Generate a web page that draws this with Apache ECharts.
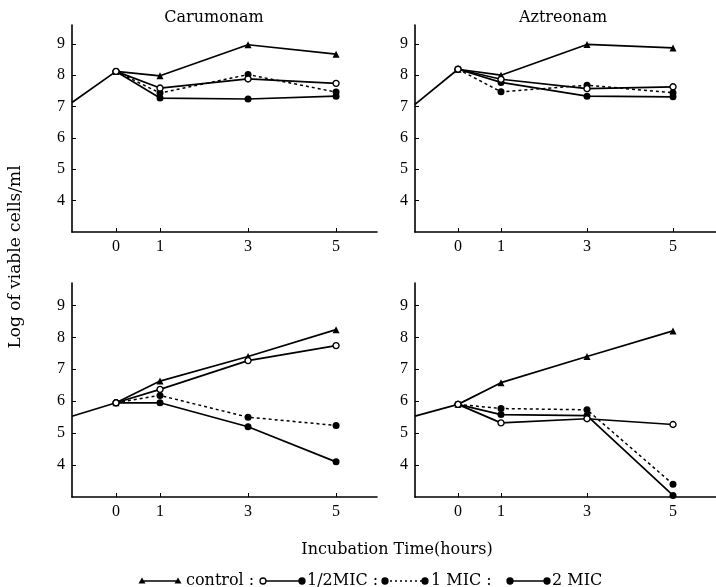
<!DOCTYPE html>
<html><head><meta charset="utf-8">
<script src="https://cdn.jsdelivr.net/npm/echarts@6/dist/echarts.min.js"></script>
<style>html,body{margin:0;padding:0;background:#fff}#c{width:716px;height:587px}</style>
</head><body><div id="c"></div>
<script>
// ---- data ----
const hours = [0, 1, 3, 5];
const preHours = [-1, 0];
const xTicks = [0, 1, 3, 5];
const yTicks = [4, 5, 6, 7, 8, 9];
const panelTitles = ['Carumonam', 'Aztreonam'];
const seriesNames = ['control', '1/2MIC', '1 MIC', '2 MIC'];

// top-left (Carumonam)
const tlPre = [7.13, 8.12];
const tlControl = [8.12, 7.98, 8.97, 8.67];
const tlHalf = [8.12, 7.59, 7.88, 7.74];
const tlOne = [8.12, 7.43, 8.02, 7.46];
const tlTwo = [8.12, 7.27, 7.24, 7.33];
// top-right (Aztreonam)
const trPre = [7.07, 8.19];
const trControl = [8.19, 8.0, 8.98, 8.87];
const trHalf = [8.19, 7.87, 7.57, 7.63];
const trOne = [8.19, 7.47, 7.68, 7.44];
const trTwo = [8.19, 7.77, 7.33, 7.31];
// bottom-left (Carumonam)
const blPre = [5.53, 5.95];
const blControl = [5.95, 6.63, 7.4, 8.24];
const blHalf = [5.95, 6.37, 7.27, 7.74];
const blOne = [5.95, 6.18, 5.5, 5.24];
const blTwo = [5.95, 5.95, 5.2, 4.1];
// bottom-right (Aztreonam)
const brPre = [5.53, 5.9];
const brControl = [5.9, 6.58, 7.4, 8.2];
const brHalf = [5.9, 5.32, 5.45, 5.27];
const brOne = [5.9, 5.77, 5.73, 3.4];
const brTwo = [5.9, 5.58, 5.55, 3.05];

// ---- chart ----
const FONT = '"Liberation Serif","DejaVu Serif",serif';
const WFONT = '"DejaVu Serif","Liberation Serif",serif';
const panels = [
  {pre: tlPre, c: tlControl, h: tlHalf, o: tlOne, t: tlTwo},
  {pre: trPre, c: trControl, h: trHalf, o: trOne, t: trTwo},
  {pre: blPre, c: blControl, h: blHalf, o: blOne, t: blTwo},
  {pre: brPre, c: brControl, h: brHalf, o: brOne, t: brTwo}
];
const grids = [
  {left: 72, top: 25, width: 305, height: 207},
  {left: 415, top: 25, width: 310, height: 207},
  {left: 72, top: 283, width: 305, height: 214},
  {left: 415, top: 283, width: 310, height: 214}
];
const xMax = [5.93, 6, 5.93, 6];
const yMax = [9.6, 9.6, 9.7, 9.7];

const axisLineStyle = {color: '#000', width: 1.6};
const xAxes = grids.map((g, i) => ({
  type: 'value', gridIndex: i, min: -1, max: xMax[i],
  axisLine: {show: true, onZero: false, lineStyle: axisLineStyle},
  axisTick: {show: true, inside: true, length: 4, customValues: xTicks, lineStyle: {color: '#000', width: 1}},
  axisLabel: {customValues: xTicks, color: '#000', fontFamily: FONT, fontSize: 16, margin: 7},
  splitLine: {show: false}
}));
const yAxes = grids.map((g, i) => ({
  type: 'value', gridIndex: i, min: 3, max: yMax[i],
  axisLine: {show: true, onZero: false, lineStyle: axisLineStyle},
  axisTick: {show: true, inside: true, length: 4, customValues: yTicks, lineStyle: {color: '#000', width: 1}},
  axisLabel: {customValues: yTicks, color: '#000', fontFamily: FONT, fontSize: 16, margin: 7},
  splitLine: {show: false}
}));

function pts(xs, ys) { return xs.map((x, k) => [x, ys[k]]); }
const series = [];
panels.forEach((p, i) => {
  const base = {type: 'line', xAxisIndex: i, yAxisIndex: i, animation: false, z: 3};
  series.push(Object.assign({}, base, {name: 'pre', data: pts(preHours, p.pre), showSymbol: false, symbol: 'none',
    lineStyle: {color: '#000', width: 1.7}}));
  series.push(Object.assign({}, base, {name: seriesNames[0], data: pts(hours, p.c), symbol: 'triangle', symbolSize: 7,
    itemStyle: {color: '#000'}, lineStyle: {color: '#000', width: 1.7}}));
  series.push(Object.assign({}, base, {name: seriesNames[2], data: pts(hours, p.o), symbol: 'circle', symbolSize: 7,
    itemStyle: {color: '#000'}, lineStyle: {color: '#000', width: 1.5, type: [3, 3]}}));
  series.push(Object.assign({}, base, {name: seriesNames[3], data: pts(hours, p.t), symbol: 'circle', symbolSize: 7,
    itemStyle: {color: '#000'}, lineStyle: {color: '#000', width: 1.7}}));
  series.push(Object.assign({}, base, {name: seriesNames[1], data: pts(hours, p.h), symbol: 'circle', symbolSize: 6,
    itemStyle: {color: '#fff', borderColor: '#000', borderWidth: 1.4}, lineStyle: {color: '#000', width: 1.7}, z: 4}));
});

// legend drawn as graphics (symbol at both ends of each sample line)
const LY = 581;
const legendG = [];
function seg(x1, x2, dashed) {
  legendG.push({type: 'line', shape: {x1: x1, y1: LY, x2: x2, y2: LY},
    style: {stroke: '#000', lineWidth: 1.6, lineDash: dashed ? [2, 3] : null}});
}
function tri(x) {
  legendG.push({type: 'polygon', shape: {points: [[x, LY - 3.5], [x - 3.5, LY + 2.5], [x + 3.5, LY + 2.5]]}, style: {fill: '#000'}});
}
function dot(x, open) {
  legendG.push({type: 'circle', shape: {cx: x, cy: LY, r: 3}, z: 10,
    style: {fill: open ? '#fff' : '#000', stroke: '#000', lineWidth: 1.3}});
}
function txt(x, s) {
  legendG.push({type: 'text', x: x, y: LY, style: {text: s, fill: '#000', font: '16px ' + WFONT, verticalAlign: 'middle'}});
}
seg(142, 178, false); tri(142); tri(178); txt(186, seriesNames[0] + ' :');
seg(263, 302, false); dot(263, true); dot(302, false); txt(307, seriesNames[1] + ' :');
seg(385, 425, true); dot(385, false); dot(425, false); txt(431, seriesNames[2] + ' :');
seg(510, 547, false); dot(510, false); dot(547, false); txt(552, seriesNames[3]);

const chart = echarts.init(document.getElementById('c'), null, {renderer: 'canvas'});
chart.setOption({
  backgroundColor: '#fff',
  animation: false,
  title: [
    {text: panelTitles[0], left: 209, top: 5, textAlign: 'center', textStyle: {fontFamily: WFONT, fontSize: 16, fontWeight: 'normal', color: '#000'}},
    {text: panelTitles[1], left: 558, top: 5, textAlign: 'center', textStyle: {fontFamily: WFONT, fontSize: 16, fontWeight: 'normal', color: '#000'}},
    {text: 'Incubation Time(hours)', left: 392, top: 537, textAlign: 'center', textStyle: {fontFamily: WFONT, fontSize: 16, fontWeight: 'normal', color: '#000'}}
  ],
  grid: grids,
  xAxis: xAxes,
  yAxis: yAxes,
  series: series,
  graphic: [
    {type: 'text', x: 16, y: 257, rotation: Math.PI / 2, style: {text: 'Log of viable cells/ml', fill: '#000', font: '17px ' + WFONT, align: 'center', verticalAlign: 'middle'}}
  ].concat(legendG)
});
</script></body></html>
